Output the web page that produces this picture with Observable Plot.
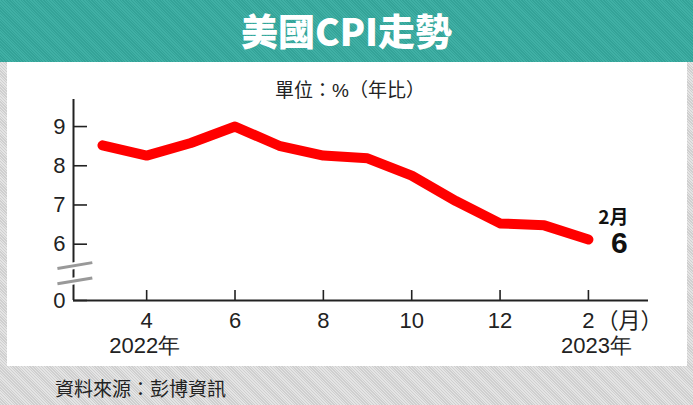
<!DOCTYPE html>
<html>
<head>
<meta charset="utf-8">
<script src="https://cdn.jsdelivr.net/npm/d3@7"></script>
<script src="https://cdn.jsdelivr.net/npm/@observablehq/plot@0.6"></script>
<style>
  html, body { margin: 0; padding: 0; }
  body {
    width: 693px; height: 405px; position: relative; overflow: hidden;
    background: #d9d9d9;
    background-image: repeating-linear-gradient(45deg, #cfcfcf 0 1px, #e4e4e4 1px 2px);
    font-family: "Liberation Sans", Arial, "Noto Sans CJK TC", sans-serif;
  }
  #banner {
    position: absolute; left: 0; top: 0; width: 693px; height: 62px;
    background: #39a99e;
    background-image: repeating-linear-gradient(45deg, #34a398 0 1px, #40b0a5 1px 2px);
  }
  #title {
    position: absolute; left: 0; top: 8px; width: 693px; text-align: center;
    color: #fff; font-family: "Noto Sans CJK TC", sans-serif; font-weight: 900;
    font-size: 37px; line-height: 44px; letter-spacing: 0px;
  }
  #panel {
    position: absolute; left: 7px; top: 62px; width: 680px; height: 304px; background: #fff;
  }
  #unit {
    position: absolute; left: 275px; top: 79px; font-size: 19px; color: #222;
    font-family: "Liberation Sans", "Noto Sans CJK TC", sans-serif; line-height: 24px;
  }
  #source {
    position: absolute; left: 55px; top: 375px; font-size: 19px; color: #222;
    font-family: "Noto Sans CJK TC", sans-serif; line-height: 26px;
  }
  #chart { position: absolute; left: 0; top: 0; }
</style>
</head>
<body>
<div id="banner"></div>
<div id="title">美國CPI走勢</div>
<div id="panel"><div id="chart"></div></div>
<div id="unit">單位：%（年比）</div>
<div id="source">資料來源：彭博資訊</div>
<script>
// Data: months Mar 2022 .. Feb 2023 (13 = Jan 2023, 14 = Feb 2023)
const months = [3, 4, 5, 6, 7, 8, 9, 10, 11, 12, 13, 14];
const cpi = [8.52, 8.26, 8.58, 9.0, 8.51, 8.26, 8.19, 7.75, 7.1, 6.53, 6.48, 6.12];
const xTicks = [4, 6, 8, 10, 12, 14];
const xTickLabels = ["4", "6", "8", "10", "12", "2"];
const yTicks = [0, 6, 7, 8, 9];
const yearLabels = [{m: 4, label: "2022年"}, {m: 14, label: "2023年"}];
const monthUnit = [{m: 14, label: "（月）"}];
const lastMonth = "2月";
const lastValue = 6;
// broken axis: the value 0 is drawn at this position of the scale
const yBase = 4.564;
const xStart = 2.344;
const breakMarks = [
  {x1: 1.98, x2: 2.77, y1: 4.99, y2: 5.14},
  {x1: 1.98, x2: 2.77, y1: 5.38, y2: 5.53}
];

const yPos = v => (v === 0 ? yBase : v);
const data = months.map((m, i) => ({m, v: cpi[i]}));
const last = data[data.length - 1];

const chart = Plot.plot({
  width: 680,
  height: 304,
  marginLeft: 66,
  marginRight: 39,
  marginTop: 37,
  marginBottom: 66,
  style: {background: "transparent", fontFamily: "Liberation Sans, Arial, sans-serif"},
  x: {domain: [xStart, 15.36]},
  y: {domain: [yBase, 9.69]},
  marks: [
    Plot.axisY({
      ticks: yTicks.map(yPos), tickSize: -14, stroke: "#222",
      strokeWidth: 1.6, label: null, tickFormat: () => ""
    }),
    Plot.axisX({
      ticks: xTicks, tickSize: -10, stroke: "#222",
      strokeWidth: 1.6, label: null, tickFormat: () => ""
    }),
    Plot.text(yTicks, {x: () => xStart, y: yPos, text: d => String(d), dx: -8,
      textAnchor: "end", fontSize: 22, fill: "#222"}),
    Plot.text(xTicks, {x: d => d, y: () => yBase, text: (d, i) => xTickLabels[i], dy: 20,
      fontSize: 22, fill: "#222"}),
    Plot.ruleX([xStart], {stroke: "#222", strokeWidth: 2}),
    Plot.ruleY([yBase], {stroke: "#222", strokeWidth: 2}),
    Plot.link(breakMarks, {x1: "x1", x2: "x2", y1: "y1", y2: "y2", stroke: "#fff", strokeWidth: 7}),
    Plot.link(breakMarks, {x1: "x1", x2: "x2", y1: "y1", y2: "y2", stroke: "#999", strokeWidth: 3}),
    Plot.line(data, {x: "m", y: "v", stroke: "#ff0000", strokeWidth: 10,
      strokeLinecap: "round", strokeLinejoin: "round"}),
    Plot.text([last], {x: "m", y: "v", text: () => lastMonth, dx: 25, dy: -22,
      fontSize: 19, fontWeight: "bold", fill: "#111",
      fontFamily: "Noto Sans CJK TC, sans-serif"}),
    Plot.text([last], {x: "m", y: "v", text: () => String(lastValue), dx: 31, dy: 4,
      fontSize: 30, fontWeight: "bold", fill: "#111"}),
    Plot.text(monthUnit, {x: "m", y: () => yBase, text: "label", dx: 8, dy: 20, textAnchor: "start",
      fontSize: 22, fill: "#222", fontFamily: "Noto Sans CJK TC, sans-serif"}),
    Plot.text(yearLabels.slice(0, 1), {x: "m", y: () => yBase, text: "label",
      dx: -2, dy: 45, fontSize: 22, fill: "#222"}),
    Plot.text(yearLabels.slice(1), {x: "m", y: () => yBase, text: "label",
      dx: 8, dy: 45, fontSize: 22, fill: "#222"})
  ]
});
document.getElementById("chart").appendChild(chart);
</script>
</body>
</html>
